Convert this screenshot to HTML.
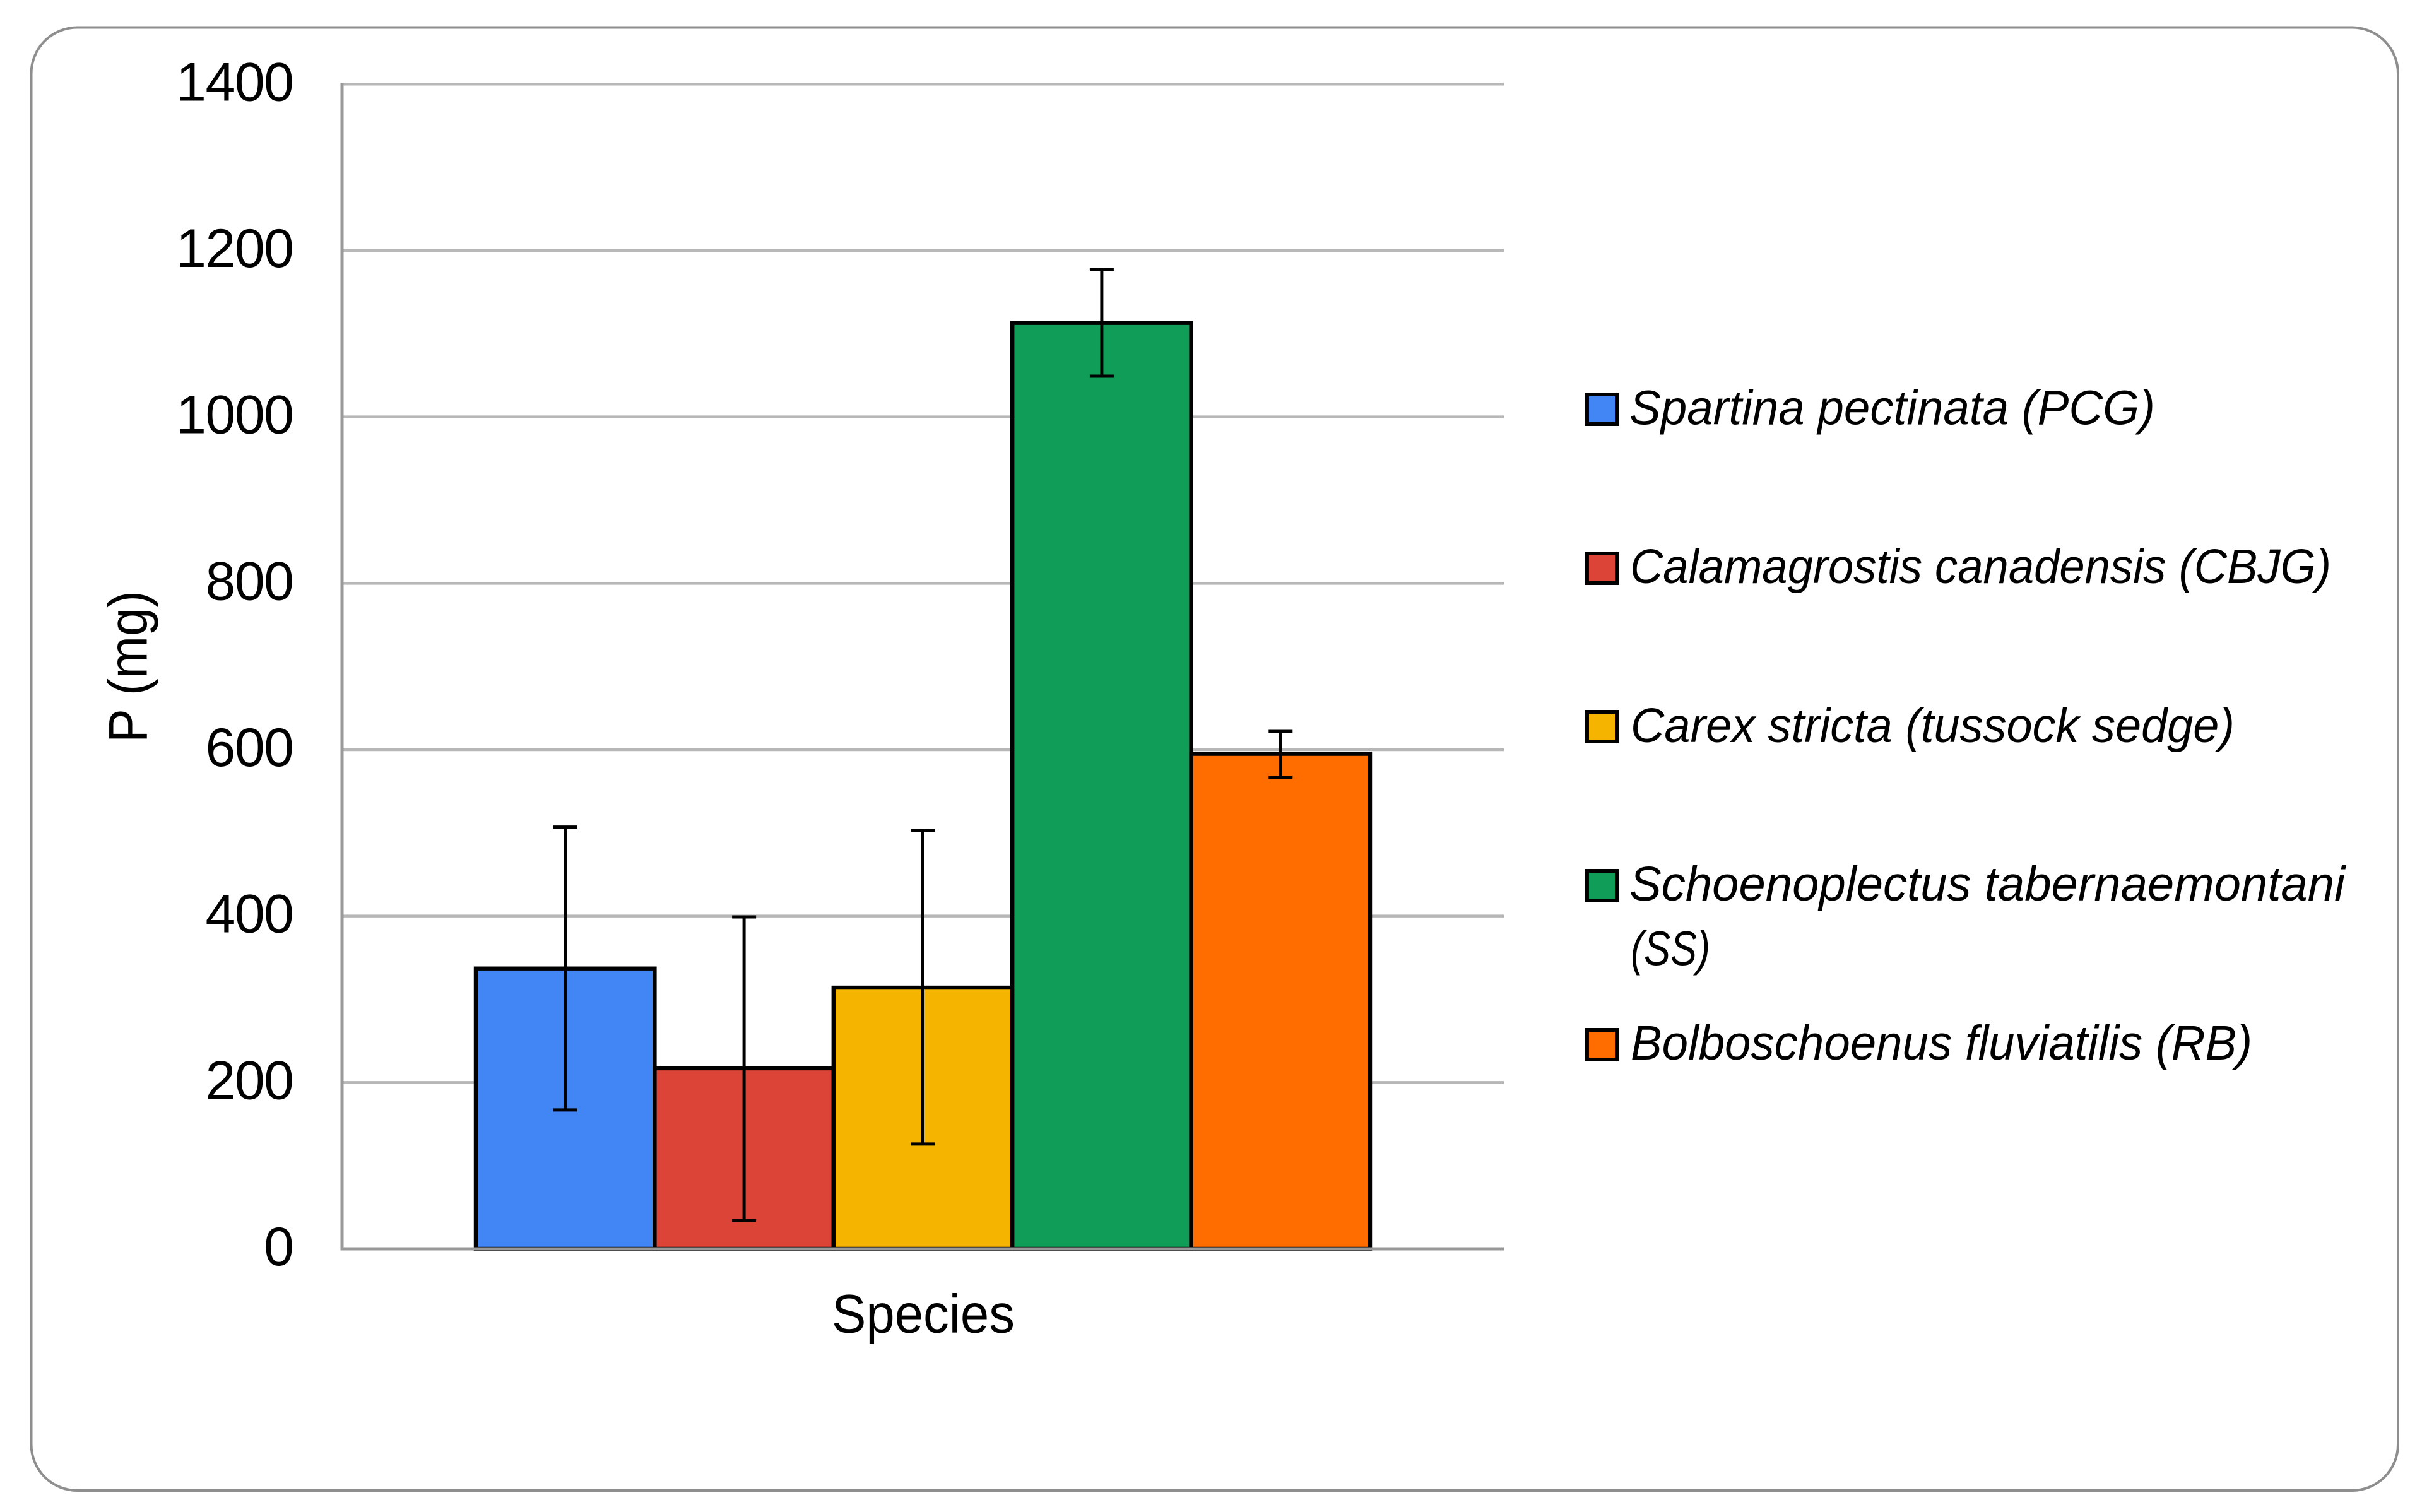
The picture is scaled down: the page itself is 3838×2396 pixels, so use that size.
<!DOCTYPE html>
<html lang="en">
<head>
<meta charset="utf-8">
<title>P (mg) by species</title>
<style>
  html, body { margin: 0; padding: 0; background: #ffffff; }
  svg { display: block; }
  text { fill: #000000; }
  .axis-font { font-family: "Liberation Sans", sans-serif; font-size: 86px; }
  .legend-font { font-family: "Liberation Sans", sans-serif; font-size: 77px; font-style: italic; }
</style>
</head>
<body>
<svg id="chart" xmlns="http://www.w3.org/2000/svg" width="3838" height="2396" viewBox="0 0 3838 2396">
  <rect x="0" y="0" width="3838" height="2396" fill="#ffffff"/>
  <rect x="49.5" y="43.5" width="3750.5" height="2318.5" rx="73" ry="73" fill="#ffffff" stroke="#8e8e8e" stroke-width="4"/>
  <g id="grid"></g>
  <g id="y-ticks"></g>
  <g id="bars"></g>
  <line x1="539.5" y1="1979" x2="2383" y2="1979" stroke="#999999" stroke-width="5"/>
  <line x1="542" y1="131" x2="542" y2="1981.5" stroke="#999999" stroke-width="5"/>
  <g id="errors"></g>

  <text class="axis-font" x="1318" y="2111.7" textLength="290" lengthAdjust="spacingAndGlyphs">Species</text>
  <text class="axis-font" transform="translate(232.7 1177) rotate(-90)" x="0" y="0" textLength="241" lengthAdjust="spacingAndGlyphs">P (mg)</text>

  <g>
    <g>
      <rect x="2515" y="625" width="47" height="47" fill="#4285f4" stroke="#000" stroke-width="6"/>
      <text class="legend-font" x="2582" y="672.7" textLength="833" lengthAdjust="spacingAndGlyphs">Spartina pectinata (PCG)</text>
    </g>
    <g>
      <rect x="2515" y="877" width="47" height="47" fill="#db4437" stroke="#000" stroke-width="6"/>
      <text class="legend-font" x="2583" y="924" textLength="1111" lengthAdjust="spacingAndGlyphs">Calamagrostis canadensis (CBJG)</text>
    </g>
    <g>
      <rect x="2515" y="1128" width="47" height="47" fill="#f4b400" stroke="#000" stroke-width="6"/>
      <text class="legend-font" x="2584" y="1176" textLength="957" lengthAdjust="spacingAndGlyphs">Carex stricta (tussock sedge)</text>
    </g>
    <g>
      <rect x="2515" y="1380" width="47" height="47" fill="#0f9d58" stroke="#000" stroke-width="6"/>
      <text class="legend-font" x="2582" y="1427" textLength="1134" lengthAdjust="spacingAndGlyphs">Schoenoplectus tabernaemontani</text>
      <text class="legend-font" x="2584" y="1529.5" textLength="126" lengthAdjust="spacingAndGlyphs">(SS)</text>
    </g>
    <g>
      <rect x="2515" y="1632" width="47" height="47" fill="#ff6d00" stroke="#000" stroke-width="6"/>
      <text class="legend-font" x="2584" y="1679" textLength="985" lengthAdjust="spacingAndGlyphs">Bolboschoenus fluviatilis (RB)</text>
    </g>
  </g>
</svg>
<script>
const seriesCodes = ["pcg", "cbjg", "tussock-sedge", "ss", "rb"];
const seriesValues = [337, 217, 314, 1113, 595];
const errorHigh = [507, 399, 503, 1177, 622];
const errorLow = [167, 34, 126, 1049, 567];
const seriesColors = ["#4285f4", "#db4437", "#f4b400", "#0f9d58", "#ff6d00"];
const tickValues = [0, 200, 400, 600, 800, 1000, 1200, 1400];

const SVG_NS = "http://www.w3.org/2000/svg";
const plot = { left: 542, right: 2383, top: 133.3, bottom: 1979, barStart: 754, barStep: 283.4, yMax: 1400 };

function yScale(value) {
  return plot.bottom - (value / plot.yMax) * (plot.bottom - plot.top);
}
function xLeft(index) {
  return plot.barStart + index * plot.barStep;
}
function xCenter(index) {
  return xLeft(index) + plot.barStep / 2;
}
function make(tag, attrs) {
  const el = document.createElementNS(SVG_NS, tag);
  for (const key in attrs) el.setAttribute(key, attrs[key]);
  return el;
}

const gridGroup = document.getElementById("grid");
const tickGroup = document.getElementById("y-ticks");
tickValues.forEach(function (tick) {
  const y = yScale(tick);
  if (tick > 0) {
    const line = make("line", { x1: plot.left, x2: plot.right, y1: y, y2: y, stroke: "#b7b7b7", "stroke-width": 4.5 });
    
    
    gridGroup.appendChild(line);
  }
  const label = make("text", { x: 464.5, y: y + 26, "text-anchor": "end", "class": "axis-font", "letter-spacing": "-1.5" });
  
  
  label.textContent = String(tick);
  tickGroup.appendChild(label);
});

const barGroup = document.getElementById("bars");
const errorGroup = document.getElementById("errors");
seriesValues.forEach(function (value, i) {
  const top = yScale(value);
  const bar = make("rect", {
    x: xLeft(i), y: top, width: plot.barStep, height: plot.bottom - top,
    fill: seriesColors[i], stroke: "#000000", "stroke-width": 6.4
  });
  
  
  barGroup.appendChild(bar);

  const cx = xCenter(i);
  const yHigh = yScale(errorHigh[i]);
  const yLow = yScale(errorLow[i]);
  const err = make("path", {
    d: "M" + cx + " " + yHigh + "V" + yLow +
       "M" + (cx - 19) + " " + yHigh + "H" + (cx + 19) +
       "M" + (cx - 19) + " " + yLow + "H" + (cx + 19),
    fill: "none", stroke: "#000000", "stroke-width": 5
  });
  
  
  errorGroup.appendChild(err);
});
</script>
</body>
</html>
